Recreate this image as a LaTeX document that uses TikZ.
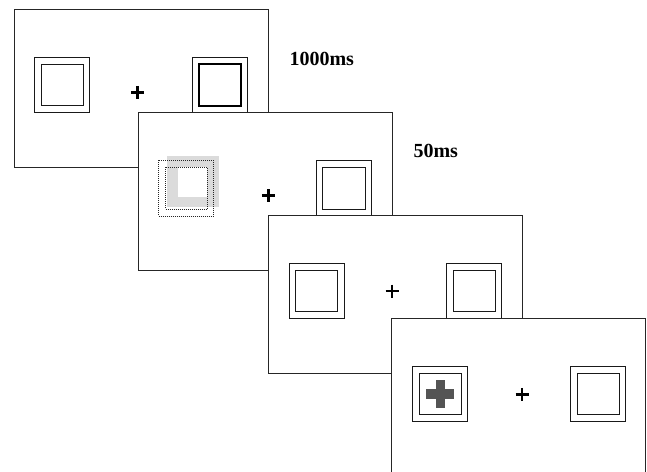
\documentclass[tikz,border=0pt]{standalone}
\usepackage{fontspec}
\setmainfont{Liberation Serif}
\begin{document}
\begin{tikzpicture}[x=1pt,y=-1pt,
  panel/.style={draw=black!85,line width=0.9pt,fill=white},
  boxline/.style={draw=black!90,line width=0.9pt},
  thickline/.style={draw=black,line width=1.5pt},
  dotline/.style={draw=black!85,line width=0.8pt,dash pattern=on 0.8pt off 1.2pt},
  fix/.style={line width=2.9pt,draw=black},
  lbl/.style={font=\bfseries\fontsize{20}{22}\selectfont,anchor=base west,inner sep=0pt}]
\useasboundingbox (0,0) rectangle (647,471);
\clip (0,0) rectangle (647,471);
% panel 1
\begin{scope}[shift={(14,9.5)}]
  \path[panel] (0,0) rectangle (254,157.5);
  \path[boxline] (20.7,48) rectangle (75.8,103);
  \path[boxline] (27.4,54.7) rectangle (69.1,96.3);
  \path[boxline] (178.5,48) rectangle (233.7,103);
  \path[thickline] (185.2,54.7) rectangle (227,96.3);
  \draw[fix] (117.2,82.8) -- (130.2,82.8) (123.7,76.3) -- (123.7,89.3);
\end{scope}
% panel 2
\begin{scope}[shift={(138,112.7)}]
  \path[panel] (0,0) rectangle (254,157.5);
  \fill[black!14] (29,42.8) rectangle (81,94.3);
  \fill[white] (40,54.3) rectangle (69,84.3);
  \path[dotline] (20.3,47.6) rectangle (75.3,103.3);
  \path[dotline] (27.3,54.6) rectangle (69.3,96.3);
  \path[boxline] (178,48) rectangle (233.3,103);
  \path[boxline] (184.8,55) rectangle (227,96.3);
  \draw[fix] (123.8,83) -- (136.8,83) (130.3,76.5) -- (130.3,89.5);
\end{scope}
% panel 3
\begin{scope}[shift={(268.3,215.7)}]
  \path[panel] (0,0) rectangle (254,157.5);
  \path[boxline] (20.7,48) rectangle (75.8,103);
  \path[boxline] (27.4,55) rectangle (69,96);
  \path[boxline] (178.4,48) rectangle (233.4,103);
  \path[boxline] (185.1,55) rectangle (226.7,96);
  \draw[fix] (117.2,75.3) -- (130.2,75.3) (123.7,68.8) -- (123.7,81.8);
\end{scope}
% panel 4
\begin{scope}[shift={(391.7,318.7)}]
  \path[panel] (0,0) rectangle (254,157.5);
  \path[boxline] (20.6,48) rectangle (76,103);
  \path[boxline] (27.6,54.6) rectangle (69.3,96);
  \fill[black!67] (44,61.6) rectangle (53.6,89.3);
  \fill[black!67] (34.6,70.3) rectangle (62,80.6);
  \path[boxline] (178.6,48) rectangle (234,103);
  \path[boxline] (185.3,54.6) rectangle (227.3,96);
  \draw[fix] (123.8,75.6) -- (136.8,75.6) (130.3,69.1) -- (130.3,82.1);
\end{scope}
\node[lbl] (t1) at (289.3,65) {1000ms};
\node[lbl] (t2) at (413.3,157.7) {50ms};
\end{tikzpicture}
\end{document}
